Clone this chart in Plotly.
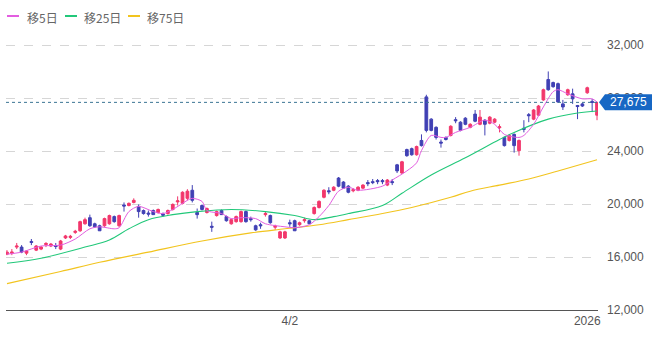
import plotly.graph_objects as go

# ---- data ----
opens = [16215,16290,16750,16750,16290,17170,16520,16600,16940,16830,
         16870,16600,17440,17480,17860,17980,18510,18970,18510,18360,
         18360,18510,19050,18360,19930,19890,20120,19820,19510,19320,
         19510,19360,19240,19280,19590,20160,20050,20430,21040,19360,
         19890,19360,18320,19130,19510,19050,18510,18670,18670,19430,
         18900,18360,18440,19200,19130,18250,17440,17440,18590,18740,
         18440,18740,18740,19280,19740,20510,21000,21040,21960,21660,
         21350,21000,21040,21200,21620,21690,21770,21770,21430,21690,
         22960,22340,24110,24180,23720,24800,28090,26410,25790,24680,
         25030,25180,26370,26180,26480,25790,26790,26020,26330,26100,
         26180,25760,25030,24800,25260,24030,25720,26750,26410,26710,
         27860,29400,29170,29090,27560,28250,28320,27440,27560,28400,
         27750,26710]
highs = [16521,16600,17060,16900,16520,17360,16900,16830,17130,17060,
         17060,17290,17670,17670,18050,18740,18970,19200,18590,18440,
         18970,19200,19130,19200,20120,20120,20430,19970,19590,19510,
         19590,19660,19360,19590,20050,20580,20960,21120,21430,19660,
         19970,19740,18670,19510,19590,19130,18900,19130,19510,19510,
         19050,18440,18590,19430,19200,18440,17980,17980,18820,18820,
         18670,18970,18820,19820,20280,21120,21270,21350,22040,21730,
         21430,21200,21350,21500,21810,21890,21890,21890,21890,21890,
         23030,23260,24180,24260,24410,25260,28250,26480,25870,24870,
         25100,25950,26560,26250,26560,26100,27100,27100,26410,26640,
         26480,26020,25100,25260,25330,24870,26330,26870,27170,27480,
         28710,30010,29240,29170,27860,28710,28710,27480,27630,28860,
         27940,27630]
lows = [16138,16140,16600,16290,16140,16900,16450,16520,16750,16750,
        16600,16520,17360,17360,17750,17900,18440,18280,18210,17980,
        18280,18440,18590,18280,19430,19820,20050,18970,19200,19050,
        19200,19280,19050,19200,19510,19890,19970,20280,20120,18900,
        19510,19280,17900,19050,19200,18670,18440,18590,18590,18590,
        18670,17980,18130,19050,18510,18050,17360,17360,18280,17980,
        18360,18590,18510,19200,19660,20430,20740,20970,21270,21200,
        20810,20890,20970,21120,21350,21500,21500,21500,21350,21430,
        22340,22270,23570,23650,23650,24340,25410,25490,24870,24260,
        24800,25100,26100,25490,25950,25720,26180,25950,25180,26020,
        26100,25410,24340,24720,23880,23650,25410,26180,26330,26640,
        27790,28550,28780,27630,27100,28170,27560,26410,27330,28320,
        26940,26330]
closes = [16368,16370,16830,16370,16450,17100,16830,16750,17020,16980,
          16790,17210,17590,17560,17940,18670,18820,18360,18280,17980,
          18900,19130,18670,19130,19850,20050,20280,19430,19280,19240,
          19200,19590,19160,19510,19970,20240,20890,20970,20280,19200,
          19590,19660,18250,19430,19200,18740,18820,19050,19430,18670,
          18820,18050,18360,19280,18590,18320,17900,17900,18510,17980,
          18590,18820,18510,19740,20200,21040,20930,21270,21350,21200,
          20890,21080,21270,21430,21540,21620,21690,21690,21810,21620,
          22500,23190,23650,23720,24340,24410,25560,25560,25030,24600,
          24870,25870,26290,25560,26020,26020,26250,26560,26020,26560,
          26410,25830,24410,25180,24410,24800,25640,26670,27100,27400,
          28630,28630,28860,27710,27330,28630,27940,27360,27400,28780,
          27670,27675]

ma5_idx = [0,3,7,11,14,17,19,22,23,25,27,30,32,34,37,38,40,41,44,46,48,51,53,57,59,
           62,64,66,68,70,72,77,79,82,84,85,87,89,90,92,95,98,100,102,105,106,108,
           110,112,113,115,118,120,121]
ma5_val = [16215,16370,16830,16900,17360,18130,18280,18130,18210,19430,19820,19430,
           19280,19590,20280,20430,20200,19510,19280,18900,18970,18900,18510,18280,
           18210,18440,19050,19890,20970,21270,21040,21350,21810,22500,23110,24030,
           25180,25030,25030,25410,25790,26330,26020,25260,25030,25180,26020,27330,
           28480,28630,28320,27940,27940,27710]

ma25_idx = [0,7,16,21,25,29,34,39,46,53,59,63,67,70,77,81,87,94,101,104,111,117,121]
ma25_val = [15530,15910,16750,17290,18130,18820,19200,19430,19590,19430,19130,18820,
            19050,19280,19890,20810,22190,23490,24870,25410,26410,26870,27020]

ma75_idx = [0,11,19,29,40,50,57,64,70,77,83,91,95,101,107,113,121]
ma75_val = [13990,14910,15600,16370,17210,17820,18130,18440,18820,19280,19740,20510,
            20970,21430,21890,22500,23340]

last_price = 27675
tick_pos = [58, 119]
tick_text = ["4/2", "2026"]
y_ticks = [12000, 16000, 20000, 24000, 28000, 32000]

legend_names = ["移5日", "移25日", "移75日"]
c_ma5, c_ma25, c_ma75 = "#e35de0", "#22c87a", "#f2c41e"
c_up, c_down = "#f2376c", "#4040b4"

x = list(range(len(closes)))

fig = go.Figure()
fig.add_trace(go.Candlestick(
    x=x, open=opens, high=highs, low=lows, close=closes,
    increasing=dict(line=dict(color=c_up, width=1), fillcolor=c_up),
    decreasing=dict(line=dict(color=c_down, width=1), fillcolor=c_down),
    whiskerwidth=0, showlegend=False, hoverinfo="skip"))

fig.add_trace(go.Scatter(x=ma75_idx, y=ma75_val, mode="lines",
                         line=dict(color=c_ma75, width=1.1, shape="spline"), showlegend=False))
fig.add_trace(go.Scatter(x=ma25_idx, y=ma25_val, mode="lines",
                         line=dict(color=c_ma25, width=1.1, shape="spline"), showlegend=False))
fig.add_trace(go.Scatter(x=ma5_idx, y=ma5_val, mode="lines",
                         line=dict(color=c_ma5, width=1, shape="spline", smoothing=0.8), showlegend=False))

W, H = 660, 338
ml, mr, mt, mb = 6, 62, 28, 28
pw, ph = W - ml - mr, H - mt - mb

fig.update_layout(
    width=W, height=H, margin=dict(l=ml, r=mr, t=mt, b=mb),
    paper_bgcolor="white", plot_bgcolor="white", boxgap=0.2,
    font=dict(family="Liberation Sans, Arial, Noto Sans CJK JP", color="#555", size=12),
    xaxis=dict(range=[-0.2, len(closes) - 0.8], rangeslider=dict(visible=False),
               showgrid=False, zeroline=False, showline=True, linecolor="#555", linewidth=1,
               tickmode="array", tickvals=tick_pos, ticktext=tick_text, ticks="",
               tickfont=dict(size=12, color="#555")),
    yaxis=dict(side="right", range=[12000, 33290], tickmode="array", tickvals=y_ticks,
               tickformat=",", showgrid=True, gridcolor="#d6d6d6", griddash="dash",
               zeroline=False, ticks="", ticklabelstandoff=8,
               tickfont=dict(size=12, color="#555")),
    hovermode=False,
)

# current price dashed line
fig.add_shape(type="line", xref="paper", x0=0, x1=1, yref="y", y0=last_price, y1=last_price,
              line=dict(color="#3a7494", width=1, dash="3px,3px"))
# price tag (drawn above the axis labels, as in the reference)
fig.add_shape(type="path", xref="paper", yref="y", xsizemode="pixel", ysizemode="pixel",
              xanchor=1, yanchor=last_price,
              path="M 1,0 L 7,8 L 54,8 L 54,-8 L 7,-8 Z",
              fillcolor="#1767c4", line=dict(width=0))
fig.add_annotation(xref="paper", yref="y", x=1, y=last_price, xanchor="center", xshift=30,
                   text=f"{last_price:,}", showarrow=False,
                   font=dict(size=12, color="white"))

# legend (custom, compact)
def px_x(p):
    return (p - ml) / pw

def px_y(p):
    return (H - mb - p) / ph

leg_line_x = [(7, 19), (65, 77), (128, 140)]
leg_text_x = [25, 82, 145]
for name, col, (a, b), tx in zip(legend_names, [c_ma5, c_ma25, c_ma75], leg_line_x, leg_text_x):
    fig.add_shape(type="line", xref="paper", yref="paper", x0=px_x(a), x1=px_x(b),
                  y0=px_y(16), y1=px_y(16), line=dict(color=col, width=2))
    fig.add_annotation(xref="paper", yref="paper", x=px_x(tx), y=px_y(17), xanchor="left",
                       yanchor="middle", text=name, showarrow=False,
                       font=dict(size=12, color="#666", family="Noto Sans CJK JP"))

fig.write_html("out.html")
